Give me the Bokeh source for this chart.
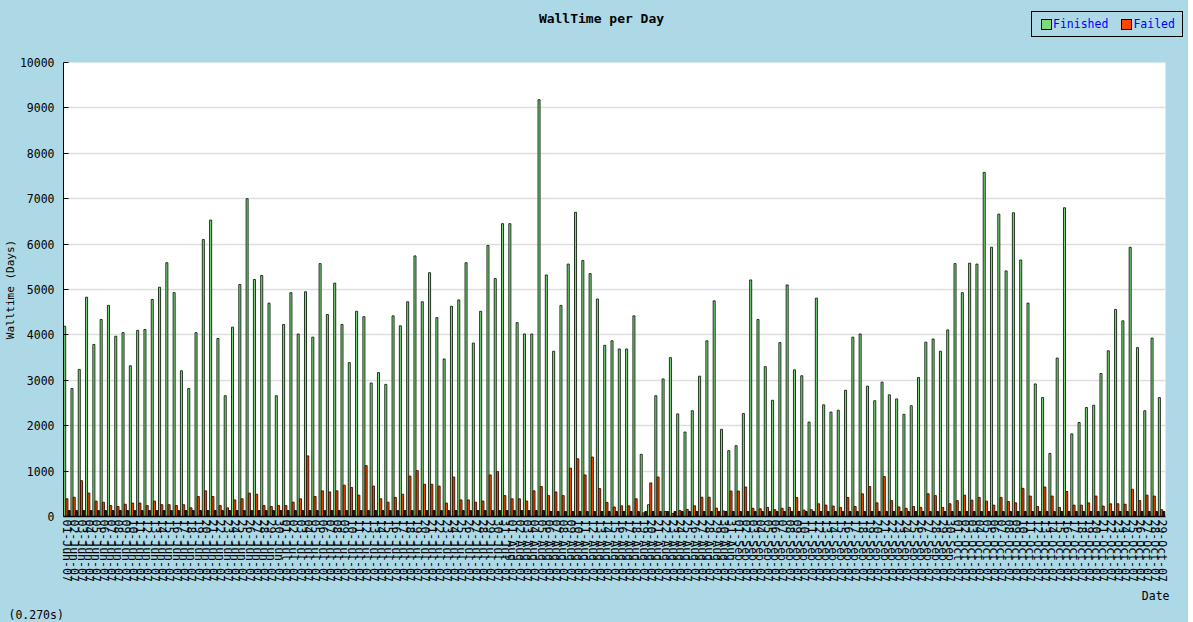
import pandas as pd
from bokeh.plotting import figure
from bokeh.models import (FactorRange, Range1d, ColumnDataSource, Title, FixedTicker, Div)
from bokeh.layouts import column
from bokeh.transform import dodge
from bokeh.embed import file_html
from bokeh.resources import INLINE

# ---- data -------------------------------------------------------------
dates = [d.strftime("%d-%b-%y") for d in pd.date_range("2007-06-01", periods=151)]

finished = [
    4190, 2820, 3240, 4830, 3790, 4340, 4650, 3970, 4050, 3320, 4100, 4120, 4780, 5050, 5590,
    4930, 3210, 2820, 4050, 6100, 6530, 3920, 2660, 4170, 5110, 7000, 5220, 5310, 4700, 2660,
    4230, 4930, 4020,
    4950, 3950, 5570, 4450, 5140, 4230, 3390, 4520, 4400, 2940, 3170, 2910, 4420, 4200, 4730,
    5740, 4730, 5370, 4380, 3470, 4630, 4770, 5590, 3820, 4520, 5970, 5240, 6450, 6450, 4270,
    4020, 4020, 9180,
    5320, 3640, 4650, 5560, 6700, 5640, 5350, 4790, 3770, 3870, 3690, 3690, 4420, 1370, 260,
    2660, 3030, 3500, 2260, 1860, 2330, 3090, 3870, 4750,
    1920, 1450, 1560, 2270, 5210, 4340, 3300, 2560, 3830, 5100, 3230, 3100, 2080, 4810, 2460,
    2300, 2340, 2780, 3950, 4020, 2870, 2550, 2960, 2680, 2590, 2250, 2440, 3060, 3840, 3910,
    3640, 4110, 5570, 4930, 5580, 5560, 7580, 5930, 6660, 5410, 6690, 5650, 4700, 2920, 2620,
    1390, 3490, 6800, 1820, 2070, 2400, 2450, 3150, 3650, 4560, 4310, 5930, 3720, 2330, 3930,
    2620,
]

failed = [
    390, 425, 790, 515, 340, 315, 240, 220, 270, 295, 295, 240, 340, 260, 260, 240, 260, 190,
    440, 565, 440, 240, 190, 365, 390, 515, 490, 240, 220, 240, 240, 315, 390,
    1335, 440, 565, 540, 565, 690, 640, 470, 1120, 670, 390, 315, 420, 490, 890, 1010, 710, 710,
    670, 295, 870, 365, 365, 315, 340, 915, 990, 460, 390, 390, 340, 565, 660,
    460, 540, 460, 1065, 1270, 915, 1310, 615, 310, 210, 235, 235, 390, 80, 740, 870, 110, 65,
    130, 155, 235, 425, 425, 185,
    120, 560, 560, 650, 180, 170, 200, 150, 180, 200, 420, 140, 150, 280, 250, 230, 200, 420,
    220, 500, 660, 300, 880, 350, 210, 180, 220, 200, 500, 460, 200, 280, 350, 470, 360, 420,
    340, 250, 420, 330, 300, 620, 450, 220, 650, 450, 200, 550, 250, 250, 300, 450, 230, 280,
    280, 270, 600, 350, 470, 450, 150,
]

# third, unlabeled series: small dark stubs at the base of every group
other = [
    130, 130, 130, 130, 130, 130, 130, 130, 130, 130, 130, 130, 130, 130, 130, 130, 130, 130,
    130, 130, 130, 130, 130, 130, 130, 130, 130, 130, 130, 130, 130, 130, 130,
    130, 130, 130, 130, 130, 130, 130, 130, 130, 130, 130, 130, 130, 130, 130, 130, 130, 130,
    130, 130, 130, 130, 130, 130, 130, 130, 130, 130, 130, 130, 130, 130, 130,
    110, 110, 110, 110, 110, 110, 110, 110, 110, 110, 110, 110, 110, 110, 110, 110, 110, 110,
    110, 110, 110, 110, 110, 110,
    110, 110, 110, 110, 110, 110, 110, 110, 110, 110, 110, 110, 110, 110, 110, 110, 110, 110,
    110, 110, 110, 110, 110, 110, 110, 110, 110, 110, 110, 110, 110, 110, 110, 110, 110, 110,
    110, 110, 110, 110, 110, 110, 110, 110, 110, 110, 110, 110, 110, 110, 110, 110, 110, 110,
    110, 110, 110, 110, 110, 110, 110,
]

y_ticks = list(range(0, 10001, 1000))
title_text = "WallTime per Day"
series_names = ["Finished", "Failed"]

# ---- style ------------------------------------------------------------
BG = "#ADD8E6"
MONO = "DejaVu Sans Mono"
GREEN = "#7CDC7C"
RED = "#FF4500"
W = 1188

# ---- header: title + legend ------------------------------------------
def swatch(color):
    return (f'<span style="display:inline-block;width:11px;height:11px;background:{color};'
            f'border:1px solid black;box-sizing:border-box;vertical-align:middle;'
            f'margin-right:1px;"></span>')

legend_html = (
    f'<div style="position:absolute;left:1031px;top:11px;width:152px;height:26px;'
    f'box-sizing:border-box;border:1.5px solid black;background:{BG};'
    f'display:flex;align-items:center;padding-left:9px;">'
    f'{swatch(GREEN)}<span style="color:blue;font-size:11.5px;margin-right:13px;">{series_names[0]}</span>'
    f'{swatch(RED)}<span style="color:blue;font-size:11.5px;">{series_names[1]}</span>'
    f'</div>'
)
header_html = (
    f'<div style="position:relative;width:{W}px;height:55px;background:{BG};'
    f"font-family:'{MONO}',monospace;\">"
    f'<div style="position:absolute;left:0;width:1203px;top:10px;text-align:center;'
    f'font-weight:bold;font-size:13px;color:black;">{title_text}</div>'
    f'{legend_html}</div>'
)
head = Div(text=header_html, width=W, height=54, margin=(0, 0, 0, 0),
           styles={"background-color": BG, "overflow": "hidden"})

# ---- main chart -------------------------------------------------------
src = ColumnDataSource(dict(date=dates, finished=finished, failed=failed, other=other))

p = figure(x_range=FactorRange(*dates), y_range=Range1d(0, 10000),
           width=W, height=568, output_backend="svg", toolbar_location=None,
           min_border_left=63, min_border_right=23, min_border_top=8, min_border_bottom=106,
           background_fill_color="white", border_fill_color=BG, outline_line_color=None,
           margin=(0, 0, 0, 0))

p.vbar(x=dodge("date", -0.34, range=p.x_range), top="finished", width=0.28,
       source=src, fill_color=GREEN, line_color="#10200f", line_width=0.9,
       legend_label=series_names[0])
p.vbar(x=dodge("date", -0.03, range=p.x_range), top="failed", width=0.28,
       source=src, fill_color=RED, line_color="#3a0c00", line_width=0.9,
       legend_label=series_names[1])
p.vbar(x=dodge("date", 0.28, range=p.x_range), top="other", width=0.26,
       source=src, fill_color="#202020", line_color="black", line_width=0.9)
p.legend.visible = False

p.yaxis.ticker = FixedTicker(ticks=y_ticks)
p.yaxis.axis_label = "Walltime (Days)"
p.yaxis.axis_label_text_font = MONO
p.yaxis.axis_label_text_font_style = "normal"
p.yaxis.axis_label_text_font_size = "11px"
p.yaxis.axis_label_text_color = "black"
p.yaxis.axis_label_standoff = 0
p.yaxis.major_label_text_font = MONO
p.yaxis.major_label_text_font_size = "11.5px"
p.yaxis.major_label_text_color = "black"
p.yaxis.major_label_standoff = 9
p.yaxis.major_tick_in = 5
p.yaxis.major_tick_out = 0
p.yaxis.major_tick_line_color = "black"
p.yaxis.minor_tick_line_color = None
p.yaxis.axis_line_color = "black"

p.xaxis.major_label_orientation = "vertical"
p.xaxis.major_label_text_font = MONO
p.xaxis.major_label_text_font_size = "11.5px"
p.xaxis.major_label_text_color = "black"
p.xaxis.major_label_standoff = 3
p.xaxis.major_tick_out = 0
p.xaxis.major_tick_in = 0
p.xaxis.axis_line_color = "black"
p.xaxis.axis_line_width = 1.5

p.xgrid.grid_line_color = None
p.ygrid.grid_line_color = "#dedede"
p.ygrid.grid_line_width = 1.5

p.add_layout(Title(text="Date", align="right", offset=-4, text_font=MONO, text_color="black",
                   text_font_size="11.5px", text_font_style="normal", standoff=4), "below")
p.add_layout(Title(text="(0.270s)", align="left", offset=-55, text_font=MONO, text_color="black",
                   text_font_size="11.5px", text_font_style="normal", standoff=2), "below")

page = column(head, p, spacing=0, styles={"background-color": BG})
open("out.html", "w").write(file_html(page, INLINE))
